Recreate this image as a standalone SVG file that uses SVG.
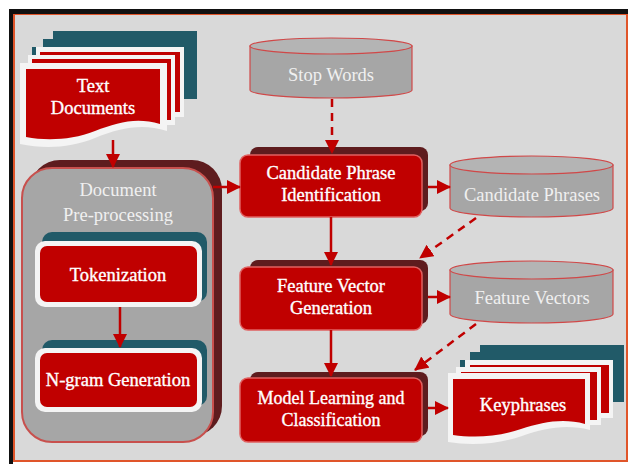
<svg xmlns="http://www.w3.org/2000/svg" width="628" height="468" viewBox="0 0 628 468">
<defs>
<style>
.lblg{font-family:"Liberation Serif","Times New Roman",serif;font-size:18.5px;fill:#f0f0f0;text-anchor:middle}
.lblr{font-family:"Liberation Serif","Times New Roman",serif;font-size:18.5px;fill:#ffffff;stroke:#ffffff;stroke-width:0.35;text-anchor:middle}
.shadow{fill:#5e1c1e}
.box{fill:#c00000;stroke:#e06060;stroke-width:1.5}
.teal{fill:#215a68}
.white{fill:#f4f4f4}
.red{fill:#c00000}
.cyl{fill:#a6a6a6;stroke:#d04848;stroke-width:1.2}
.cyltop{fill:#b4b4b4;stroke:#d04848;stroke-width:1.2}
.con{stroke:#c00000;stroke-width:2.5;fill:none}
.dash{stroke-dasharray:8,6}
</style>
<marker id="ah" markerUnits="userSpaceOnUse" markerWidth="14" markerHeight="14" viewBox="0 0 14 14" refX="13" refY="7" orient="auto">
<path d="M0,0 L14,7 L0,14 Z" fill="#c00000"/>
</marker>
</defs>

<rect x="0" y="0" width="628" height="468" fill="#ffffff"/>
<rect x="14" y="14" width="613" height="447" fill="#d9d9d9" stroke="#e0552a" stroke-width="2"/>
<rect x="9" y="9" width="619" height="5" fill="#111111"/>
<rect x="9" y="9" width="4" height="455" fill="#111111"/>

<g id="text-documents">
<rect class="teal" x="53" y="31" width="144" height="68"/>
<rect class="teal" x="43" y="39" width="154" height="60"/>
<rect class="teal" x="32" y="47" width="165" height="52"/>
<rect class="white" x="36" y="47" width="148" height="70"/>
<rect class="red" x="40" y="52" width="140" height="60"/>
<rect class="white" x="28" y="55" width="147" height="70"/>
<rect class="red" x="32" y="59" width="139" height="61"/>
<path class="white" d="M20,63 H167 V131 C 142,123 120,128 95,138 C 70,148 45,149 20,144 Z"/>
<path class="red" d="M26,69 H160 V124 C 137,117 118,122 95,131 C 72,140 47,141 26,137 Z"/>
<text class="lblr" x="93" y="92">Text</text>
<text class="lblr" x="93" y="114">Documents</text>
</g>

<g id="document-preprocessing">
<rect class="shadow" x="30" y="160" width="192" height="276" rx="30"/>
<rect x="22" y="168" width="191" height="274" rx="30" fill="#a6a6a6" stroke="#c8504d" stroke-width="2"/>
<text class="lblg" x="118" y="196">Document</text>
<text class="lblg" x="118" y="221">Pre-processing</text>
</g>

<g id="tokenization">
<rect class="teal" x="42" y="232" width="165" height="70" rx="10"/>
<rect class="white" x="35" y="241" width="167" height="66" rx="10"/>
<rect class="red" x="40" y="246" width="157" height="56" rx="7"/>
<text class="lblr" x="118" y="281">Tokenization</text>
</g>

<g id="ngram-generation">
<rect class="teal" x="42" y="340" width="165" height="66" rx="10"/>
<rect class="white" x="35" y="348" width="167" height="64" rx="10"/>
<rect class="red" x="40" y="353" width="157" height="54" rx="7"/>
<text class="lblr" x="118" y="386">N-gram Generation</text>
</g>

<g id="stop-words">
<path class="cyl" d="M250,46 V90 A81,8 0 0 0 412,90 V46 Z"/>
<ellipse class="cyltop" cx="331" cy="46" rx="81" ry="8"/>
<text class="lblg" x="331" y="81">Stop Words</text>
</g>

<g id="candidate-phrase-identification">
<rect class="shadow" x="250" y="147" width="178" height="64" rx="8"/>
<rect class="box" x="240" y="155" width="182" height="62" rx="8"/>
<text class="lblr" x="331" y="179">Candidate Phrase</text>
<text class="lblr" x="331" y="201">Identification</text>
</g>

<g id="candidate-phrases">
<path class="cyl" d="M450,165 V208 A81.5,9 0 0 0 613,208 V165 Z"/>
<ellipse class="cyltop" cx="531.5" cy="165" rx="81.5" ry="9"/>
<text class="lblg" x="532" y="201">Candidate Phrases</text>
</g>

<g id="feature-vector-generation">
<rect class="shadow" x="250" y="260" width="178" height="64" rx="8"/>
<rect class="box" x="240" y="267" width="182" height="63" rx="8"/>
<text class="lblr" x="331" y="292">Feature Vector</text>
<text class="lblr" x="331" y="314">Generation</text>
</g>

<g id="feature-vectors">
<path class="cyl" d="M450,270 V314 A81.5,9 0 0 0 613,314 V270 Z"/>
<ellipse class="cyltop" cx="531.5" cy="270" rx="81.5" ry="9"/>
<text class="lblg" x="532" y="304">Feature Vectors</text>
</g>

<g id="model-learning-classification">
<rect class="shadow" x="250" y="372" width="178" height="64" rx="8"/>
<rect class="box" x="240" y="378" width="182" height="64" rx="8"/>
<text class="lblr" style="font-size:18px" x="331" y="404">Model Learning and</text>
<text class="lblr" style="font-size:18px" x="331" y="426">Classification</text>
</g>

<g id="keyphrases">
<rect class="teal" x="480" y="345" width="144" height="57"/>
<rect class="teal" x="470" y="352" width="154" height="50"/>
<rect class="teal" x="460" y="360" width="164" height="42"/>
<rect class="white" x="465" y="360" width="148" height="58"/>
<rect class="red" x="470" y="365" width="139" height="48"/>
<rect class="white" x="456" y="367" width="145" height="58"/>
<rect class="red" x="461" y="372" width="136" height="48"/>
<path class="white" d="M448,373 H590 V430 C 566,424 545,428 522,436 C 498,444 472,446 448,442 Z"/>
<path class="red" d="M453,379 H585 V424 C 563,418 543,422 521,429 C 498,437 474,438 453,435 Z"/>
<text class="lblr" x="523" y="411">Keyphrases</text>
</g>

<g id="connectors">
<line class="con" x1="113" y1="140" x2="113" y2="167" marker-end="url(#ah)"/>
<line class="con" x1="120" y1="307" x2="120" y2="347" marker-end="url(#ah)"/>
<line class="con" x1="213" y1="187" x2="240" y2="187" marker-end="url(#ah)"/>
<line class="con dash" x1="332" y1="99" x2="332" y2="153" marker-end="url(#ah)"/>
<line class="con" x1="331" y1="217" x2="331" y2="265" marker-end="url(#ah)"/>
<line class="con" x1="331" y1="330" x2="331" y2="376" marker-end="url(#ah)"/>
<line class="con" x1="428" y1="187" x2="450" y2="187" marker-end="url(#ah)"/>
<line class="con dash" x1="476" y1="218" x2="420" y2="258" marker-end="url(#ah)"/>
<line class="con" x1="428" y1="297" x2="450" y2="297" marker-end="url(#ah)"/>
<line class="con dash" x1="476" y1="324" x2="415" y2="370" marker-end="url(#ah)"/>
<line class="con" x1="428" y1="408" x2="448" y2="408" marker-end="url(#ah)"/>
</g>
</svg>
